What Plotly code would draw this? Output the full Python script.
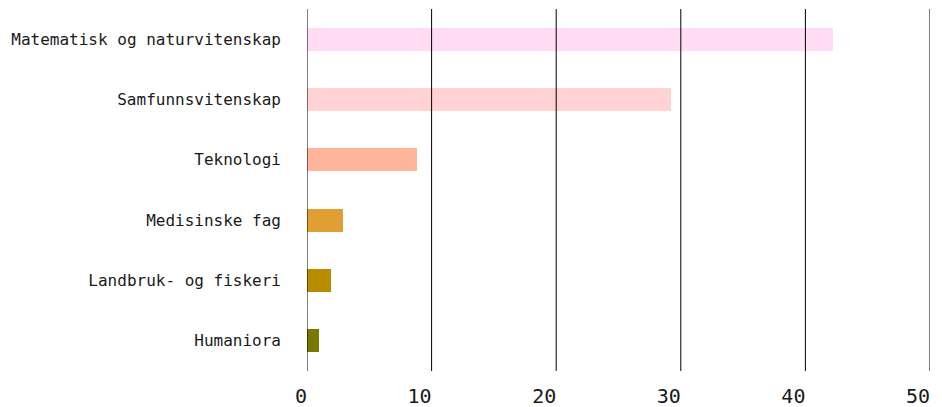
import plotly.graph_objects as go

# fagområder, topp til bunn
fag = ["Matematisk og naturvitenskap", "Samfunnsvitenskap", "Teknologi",
       "Medisinske fag", "Landbruk- og fiskeri", "Humaniora"]
verdier = [42.2, 29.2, 8.8, 2.9, 1.9, 0.95]
farger = ["#ffdcf3", "#ffd3d3", "#ffb59b", "#e09f32", "#b88c00", "#787800"]

tick_vals = [0, 10, 20, 30, 40, 50]
tick_text = ["\u00a00", "10", "20", "30", "40", "50"]

fig = go.Figure(go.Bar(
    x=verdier, y=fag, orientation="h",
    marker=dict(color=farger, line=dict(width=0)),
    width=0.38,
))

# rutenett over søylene
for v in tick_vals:
    fig.add_shape(type="line", x0=v, x1=v, y0=0, y1=1, xref="x", yref="paper",
                  line=dict(color="black", width=1), layer="above")

fig.update_layout(
    width=942, height=407,
    margin=dict(l=307, r=12, t=9, b=36),
    plot_bgcolor="white", paper_bgcolor="white",
    font=dict(family="DejaVu Sans Mono", color="#1a1a1a"),
    showlegend=False,
    bargap=0,
)
fig.update_xaxes(
    range=[0, 50], tickvals=tick_vals, ticktext=tick_text,
    showgrid=False, zeroline=False, showline=False, automargin=False,
    tickfont=dict(size=20), ticklabelshift=-12, ticklabelstandoff=11,
    fixedrange=True,
)
fig.update_yaxes(
    autorange="reversed", showgrid=False, zeroline=False, showline=False,
    automargin=False, tickfont=dict(size=16), ticklabelstandoff=25,
)
fig.write_html("out.html", config={"displayModeBar": False},
               post_script="document.body.style.margin='0';")
